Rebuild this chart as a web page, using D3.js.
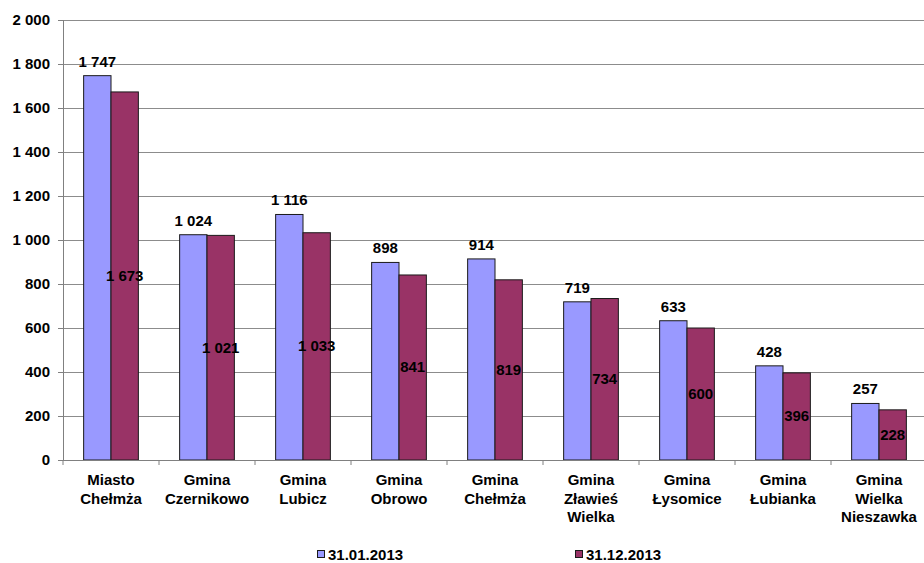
<!DOCTYPE html>
<meta charset="utf-8">
<style>
  body { margin: 0; background: #fff; }
  text {
    font-family: "Liberation Sans", Arial, sans-serif;
    font-size: 15px;
    font-weight: bold;
    fill: #000;
  }
  .grid line { stroke: #8c8c8c; stroke-width: 1; }
  .bar { stroke: #1a1a1a; stroke-width: 1; }
</style>
<body>
<svg width="924" height="563"></svg>
<script src="https://d3js.org/d3.v7.min.js"></script>
<script>
// dane
const categories = [
  ['Miasto', 'Chełmża'],
  ['Gmina', 'Czernikowo'],
  ['Gmina', 'Lubicz'],
  ['Gmina', 'Obrowo'],
  ['Gmina', 'Chełmża'],
  ['Gmina', 'Zławieś', 'Wielka'],
  ['Gmina', 'Łysomice'],
  ['Gmina', 'Łubianka'],
  ['Gmina', 'Wielka', 'Nieszawka']
];
const seriesNames = ['31.01.2013', '31.12.2013'];
const seriesColors = ['#9999ff', '#993366'];
const valuesJan = [1747, 1024, 1116, 898, 914, 719, 633, 428, 257];
const valuesDec = [1673, 1021, 1033, 841, 819, 734, 600, 396, 228];
const yTicks = [0, 200, 400, 600, 800, 1000, 1200, 1400, 1600, 1800, 2000];

const pl = d3.formatLocale({ decimal: ',', thousands: ' ', grouping: [3], currency: ['', ''] });
const fmt = pl.format(',d');

const svg = d3.select('svg');
const mLeft = 63, mRight = 927, mTop = 20, mBottom = 460;

const keys = categories.map((c, i) => i);
const x = d3.scaleBand().domain(keys).range([mLeft, mRight]).paddingInner(0.43).paddingOuter(0.215);
const xs = d3.scaleBand().domain([0, 1]).range([0, x.bandwidth()]);
const y = d3.scaleLinear().domain([0, 2000]).range([mBottom, mTop]);

// siatka
svg.append('g').attr('class', 'grid')
  .selectAll('line').data(yTicks.filter(d => d > 0)).enter().append('line')
  .attr('x1', mLeft).attr('x2', 924)
  .attr('y1', d => Math.round(y(d)) + 0.5).attr('y2', d => Math.round(y(d)) + 0.5);

// słupki
const rows = keys.map(i => [valuesJan[i], valuesDec[i]]);
const g = svg.append('g').selectAll('g').data(rows).enter().append('g')
  .attr('transform', (d, i) => `translate(${x(i)},0)`);

g.selectAll('rect').data(d => d).enter().append('rect')
  .attr('class', 'bar')
  .attr('x', (d, j) => xs(j))
  .attr('y', d => y(d))
  .attr('width', xs.bandwidth())
  .attr('height', d => mBottom - y(d))
  .attr('fill', (d, j) => seriesColors[j]);

// etykiety wartości
g.append('text')
  .attr('text-anchor', 'middle')
  .attr('x', xs(0) + xs.bandwidth() / 2)
  .attr('y', d => y(d[0]) - 9)
  .text(d => fmt(d[0]));

g.append('text')
  .attr('text-anchor', 'middle')
  .attr('x', xs(1) + xs.bandwidth() / 2)
  .attr('y', d => (y(d[1]) + mBottom) / 2 + 5)
  .text(d => fmt(d[1]));

// oś Y
const ya = svg.append('g').attr('transform', `translate(${mLeft},0)`);
ya.append('line').attr('x1', 0.5).attr('x2', 0.5).attr('y1', mTop).attr('y2', mBottom).attr('stroke', '#808080');
ya.selectAll('line.tick').data(yTicks).enter().append('line').attr('class', 'tick')
  .attr('x1', -5).attr('x2', 0)
  .attr('y1', d => Math.round(y(d)) + 0.5).attr('y2', d => Math.round(y(d)) + 0.5)
  .attr('stroke', '#808080');
ya.selectAll('text').data(yTicks).enter().append('text')
  .attr('text-anchor', 'end')
  .attr('x', -13)
  .attr('y', d => y(d) + 5)
  .text(d => fmt(d));

// oś X
const xa = svg.append('g');
xa.append('line').attr('x1', mLeft).attr('x2', 924).attr('y1', mBottom + 0.5).attr('y2', mBottom + 0.5).attr('stroke', '#808080');
xa.selectAll('line.tick').data(d3.range(categories.length + 1)).enter().append('line').attr('class', 'tick')
  .attr('x1', i => mLeft + i * x.step()).attr('x2', i => mLeft + i * x.step())
  .attr('y1', mBottom).attr('y2', mBottom + 5)
  .attr('stroke', '#808080');
xa.selectAll('text').data(categories).enter().append('text')
  .attr('text-anchor', 'middle')
  .attr('transform', (d, i) => `translate(${x(i) + x.bandwidth() / 2},${mBottom + 25})`)
  .selectAll('tspan').data(d => d).enter().append('tspan')
  .attr('x', 0).attr('y', (d, k) => k * 18.5)
  .text(d => d);

// legenda
const legendX = [317, 575];
const lg = svg.append('g').selectAll('g').data(seriesNames).enter().append('g')
  .attr('transform', (d, i) => `translate(${legendX[i]},554)`);
lg.append('rect').attr('x', 0.5).attr('y', -3.5).attr('width', 7).attr('height', 7)
  .attr('fill', (d, i) => seriesColors[i]).attr('stroke', '#1a1a1a');
lg.append('text').attr('x', 11).attr('y', 5.5).text(d => d);
</script>
</body>
